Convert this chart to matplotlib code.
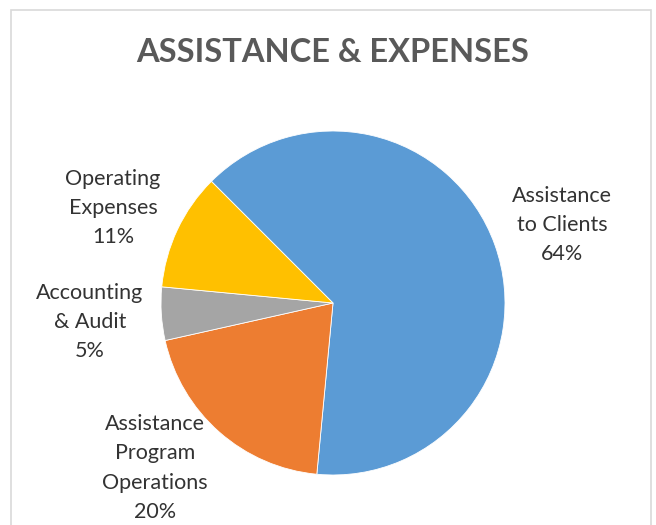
import matplotlib.pyplot as plt
from matplotlib.patches import Rectangle

# slice data, clockwise from the top-left edge
names = ['Assistance\nto Clients', 'Assistance\nProgram\nOperations', 'Accounting\n& Audit', 'Operating\nExpenses']
shares = [64, 20, 5, 11]
colors = ['#5B9BD5', '#ED7D31', '#A5A5A5', '#FFC000']
label_pos = [(562, 300), (155, 57), (90, 203), (113, 317)]

W, H = 656, 525
fig = plt.figure(figsize=(W / 100, H / 100), dpi=100)
ax = fig.add_axes([0, 0, 1, 1])

# chart area border
ax.add_patch(Rectangle((10.5, -5), 640.5, H - 9.5 + 5, fill=False, edgecolor='#D9D9D9', lw=1.2))

ax.pie(shares, colors=colors, startangle=135, counterclock=False,
       center=(333, H - 303), radius=172, frame=True,
       wedgeprops=dict(edgecolor='white', linewidth=0.6))
ax.set_xlim(0, W)
ax.set_ylim(0, H)
ax.set_aspect('equal')
ax.axis('off')

for n, s, (x, y) in zip(names, shares, label_pos):
    ax.text(x, y, f'{n}\n{s}%', ha='center', va='center', fontsize=15.5,
            family='Lato', color='#333333', linespacing=1.58)

ax.text(333, H - 52, 'ASSISTANCE & EXPENSES', ha='center', va='center', fontsize=23.5,
        family='Lato', fontweight='bold', color='#595959')

fig.savefig('out.png', dpi=100)
